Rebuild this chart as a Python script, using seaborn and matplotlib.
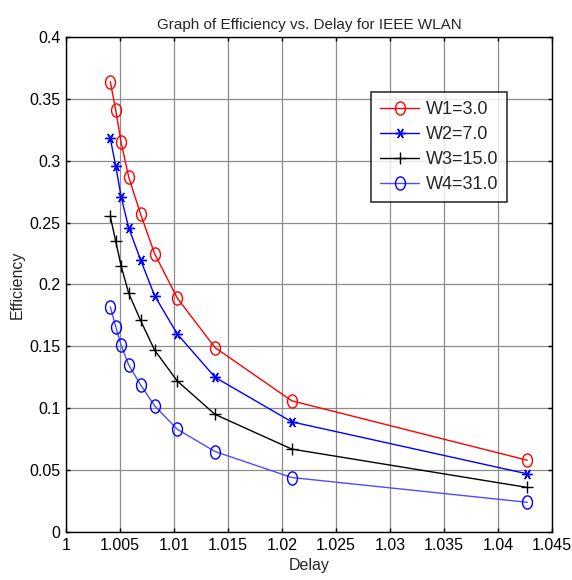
import numpy as np
import pandas as pd
import seaborn as sns
import matplotlib.pyplot as plt
from matplotlib.path import Path

# delay values (shared by all window sizes)
delay = [1.0041, 1.0046, 1.0051, 1.0058, 1.0069, 1.0082, 1.0103, 1.0138, 1.0209, 1.0427]

eff_w1 = [0.364, 0.341, 0.315, 0.287, 0.257, 0.225, 0.189, 0.149, 0.106, 0.058]
eff_w2 = [0.318, 0.296, 0.271, 0.246, 0.220, 0.191, 0.160, 0.125, 0.089, 0.047]
eff_w3 = [0.255, 0.235, 0.215, 0.193, 0.171, 0.147, 0.122, 0.095, 0.067, 0.036]
eff_w4 = [0.182, 0.166, 0.151, 0.135, 0.119, 0.102, 0.083, 0.065, 0.044, 0.024]

labels = ["W1=3.0", "W2=7.0", "W3=15.0", "W4=31.0"]

sns.set_style("whitegrid")
plt.rcParams['font.family'] = ['Liberation Sans', 'DejaVu Sans']

# slightly tall ellipse, like the stretched circles in the original
circ = Path.unit_circle()
ellipse = Path(circ.vertices * np.array([0.75, 1.0]), circ.codes)

fig = plt.figure(figsize=(5.72, 5.8), dpi=100)
ax = fig.add_axes([0.1154, 0.0828, 0.8497, 0.8534])

styles = [
    dict(color='red', marker=ellipse, markersize=9.5, markerfacecolor='none', markeredgecolor='red'),
    dict(color='blue', marker=(6, 2, 90), markersize=7.5, markeredgecolor='blue'),
    dict(color='black', marker='+', markersize=9, markeredgecolor='black'),
    dict(color='#4d4dff', marker=ellipse, markersize=9.5, markerfacecolor='none', markeredgecolor='blue'),
]

for eff, lab, st in zip([eff_w1, eff_w2, eff_w3, eff_w4], labels, styles):
    df = pd.DataFrame({'Delay': delay, 'Efficiency': eff})
    sns.lineplot(data=df, x='Delay', y='Efficiency', ax=ax, label=lab,
                 linewidth=1.0, markeredgewidth=1.0, **st)

ax.set_xlim(1.0, 1.045)
ax.set_ylim(0, 0.4)
ax.set_xticks(np.arange(1.0, 1.0451, 0.005))
ax.set_xticklabels(['1', '1.005', '1.01', '1.015', '1.02', '1.025', '1.03', '1.035', '1.04', '1.045'])
ax.set_yticks(np.arange(0, 0.401, 0.05))
ax.set_yticklabels(['0', '0.05', '0.1', '0.15', '0.2', '0.25', '0.3', '0.35', '0.4'])

ax.grid(True, color='#8c8c8c', linewidth=0.9, linestyle='-')
for sp in ax.spines.values():
    sp.set_color('black')
    sp.set_linewidth(1.0)
ax.tick_params(direction='in', length=3, width=1, colors='black', labelsize=11.5,
               top=True, right=True, bottom=True, left=True, pad=4)

ax.set_title("Graph of Efficiency vs. Delay for IEEE WLAN", fontsize=11, pad=6)
ax.set_xlabel("Delay", fontsize=11.5)
ax.set_ylabel("Efficiency", fontsize=11.5, labelpad=3)

leg = ax.legend(loc='upper right', bbox_to_anchor=(0.908, 0.889), borderaxespad=0,
                frameon=True, fancybox=False, fontsize=13, handlelength=2.2,
                handletextpad=0.35, labelspacing=0.45, borderpad=0.5, markerscale=1.0)
leg.get_frame().set_edgecolor('black')
leg.get_frame().set_linewidth(1.2)

fig.savefig("out.png", dpi=100, facecolor='white')
